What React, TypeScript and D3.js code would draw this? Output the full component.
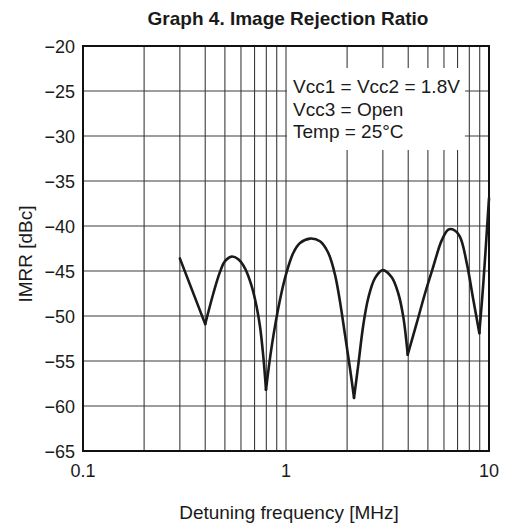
import React, { useEffect, useRef } from 'react';
import * as d3 from 'd3';

// curve: detuning frequency [MHz] vs IMRR [dBc]
const freq = [
  0.3, 0.4, 0.4385, 0.473, 0.5006, 0.54, 0.582, 0.628, 0.678, 0.717, 0.745, 0.773, 0.797,
  0.85, 0.934, 1.008, 1.086, 1.172, 1.313, 1.47, 1.616, 1.743, 1.845, 1.953, 2.066, 2.163,
  2.271, 2.403, 2.543, 2.744, 2.995, 3.317, 3.574, 3.783, 3.977,
  4.404, 4.838, 5.317, 5.848, 6.302, 6.671, 7.195, 7.766, 8.37, 8.96,
  9.374, 10,
];
const imrr = [
  -43.6, -50.9, -47.5, -45.1, -43.9, -43.4, -43.7, -44.7, -46.7, -49.0, -51.2, -54.5, -58.2,
  -53.4, -48.2, -45.1, -43.0, -41.9, -41.4, -41.7, -43.0, -45.4, -48.4, -52.1, -55.8, -59.1,
  -55.4, -51.0, -48.0, -45.8, -44.9, -45.7, -47.5, -50.1, -54.3,
  -50.8, -47.5, -44.5, -41.6, -40.4, -40.4, -41.2, -44.1, -48.2, -51.9,
  -46.4, -36.9,
];

const yTicks = [-20, -25, -30, -35, -40, -45, -50, -55, -60, -65];
const xTicks = [0.1, 1, 10];
const xTickLabels = ['0.1', '1', '10'];
const noteLines = ['Vcc1 = Vcc2 = 1.8V', 'Vcc3 = Open', 'Temp = 25°C'];

const title = 'Graph 4. Image Rejection Ratio';
const xTitle = 'Detuning frequency [MHz]';
const yTitle = 'IMRR [dBc]';

export default function App() {
  const svgRef = useRef<SVGSVGElement>(null);
  const width = 507;
  const height = 526;
  const font = "'Liberation Sans', Arial, Helvetica, sans-serif";

  function draw(elm: SVGSVGElement) {
    const svg = d3.select(elm);
    svg.selectAll('*').remove();

    const x = d3.scaleLog().domain([0.1, 10]).range([83, 489]);
    const y = d3.scaleLinear().domain([-65, -20]).range([451, 46]);

    // grid
    const vLines: number[] = [];
    for (let d = 0.1; d < 10; d *= 10) {
      for (let k = 2; k <= 10; k++) vLines.push(+(d * k).toFixed(3));
    }
    svg.append('g')
      .selectAll('line')
      .data(vLines.filter(v => v < 10))
      .enter()
      .append('line')
      .attr('x1', d => x(d)).attr('x2', d => x(d))
      .attr('y1', y(-20)).attr('y2', y(-65))
      .attr('stroke', '#3c3c3c')
      .attr('stroke-width', 1.1);

    svg.append('g')
      .selectAll('line')
      .data(yTicks.filter(t => t !== -20 && t !== -65))
      .enter()
      .append('line')
      .attr('x1', x(0.1)).attr('x2', x(10))
      .attr('y1', d => y(d)).attr('y2', d => y(d))
      .attr('stroke', '#3c3c3c')
      .attr('stroke-width', 1.1);

    // note box
    const note = svg.append('g');
    note.append('rect')
      .attr('x', 287).attr('y', 68)
      .attr('width', 178).attr('height', 82)
      .attr('fill', 'white');
    note.selectAll('text')
      .data(noteLines)
      .enter()
      .append('text')
      .attr('x', 293)
      .attr('y', (d, i) => 93 + i * 22.5)
      .attr('font-family', font)
      .attr('font-size', 19)
      .attr('fill', '#1a1a1a')
      .text(d => d);

    // frame
    svg.append('rect')
      .attr('x', x(0.1)).attr('y', y(-20))
      .attr('width', x(10) - x(0.1)).attr('height', y(-65) - y(-20))
      .attr('fill', 'none')
      .attr('stroke', '#111')
      .attr('stroke-width', 2);

    // curve, split at the notches so they stay sharp
    const pts = freq.map((f, i) => [f, imrr[i]] as [number, number]);
    const cuts = [0];
    for (let i = 1; i < pts.length - 1; i++) {
      if (imrr[i] < imrr[i - 1] && imrr[i] < imrr[i + 1]) cuts.push(i);
    }
    cuts.push(pts.length - 1);

    const line = d3.line<[number, number]>()
      .x(d => x(d[0]))
      .y(d => y(d[1]))
      .curve(d3.curveCatmullRom.alpha(0.5));

    const segs = d3.range(cuts.length - 1).map(i => pts.slice(cuts[i], cuts[i + 1] + 1));
    svg.append('g')
      .selectAll('path')
      .data(segs)
      .enter()
      .append('path')
      .attr('d', d => line(d))
      .attr('fill', 'none')
      .attr('stroke', '#1a1a1a')
      .attr('stroke-width', 2.6)
      .attr('stroke-linecap', 'round')
      .attr('stroke-linejoin', 'round');

    // tick labels
    svg.append('g')
      .selectAll('text')
      .data(yTicks)
      .enter()
      .append('text')
      .attr('x', 75)
      .attr('y', d => y(d) + 6.5)
      .attr('text-anchor', 'end')
      .attr('font-family', font)
      .attr('font-size', 18)
      .attr('fill', '#1a1a1a')
      .text(d => '\u2212' + Math.abs(d));

    svg.append('g')
      .selectAll('text')
      .data(xTicks)
      .enter()
      .append('text')
      .attr('x', d => x(d))
      .attr('y', 477)
      .attr('text-anchor', 'middle')
      .attr('font-family', font)
      .attr('font-size', 18)
      .attr('fill', '#1a1a1a')
      .text((d, i) => xTickLabels[i]);

    svg.append('text')
      .attr('x', 288).attr('y', 25)
      .attr('text-anchor', 'middle')
      .attr('font-family', font)
      .attr('font-size', 19)
      .attr('font-weight', 'bold')
      .attr('fill', '#1a1a1a')
      .text(title);

    svg.append('text')
      .attr('x', 289).attr('y', 519)
      .attr('text-anchor', 'middle')
      .attr('font-family', font)
      .attr('font-size', 19)
      .attr('fill', '#1a1a1a')
      .text(xTitle);

    svg.append('text')
      .attr('transform', 'translate(32,254) rotate(-90)')
      .attr('text-anchor', 'middle')
      .attr('font-family', font)
      .attr('font-size', 19)
      .attr('fill', '#1a1a1a')
      .text(yTitle);
  }

  useEffect(() => {
    if (svgRef.current) draw(svgRef.current);
  }, []);

  return (
    <svg
      ref={svgRef}
      width={width}
      height={height}
      style={{ position: 'absolute', left: 0, top: 0, background: 'white' }}
    />
  );
}
